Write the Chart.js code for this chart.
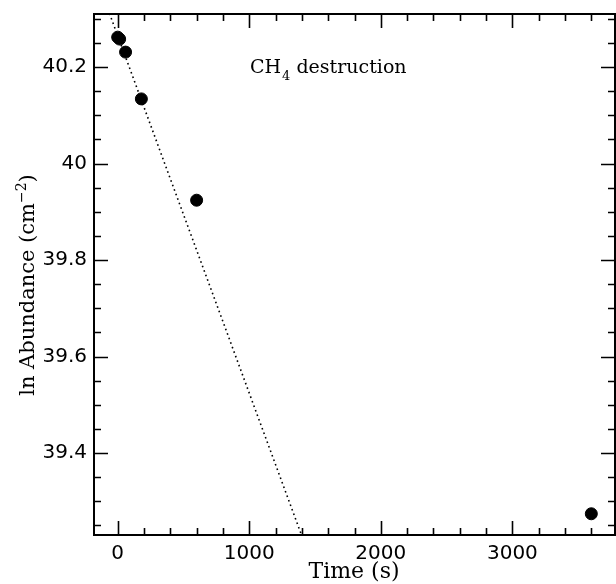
<!DOCTYPE html>
<html>
<head>
<meta charset="utf-8">
<script src="https://cdn.jsdelivr.net/npm/chart.js@4/dist/chart.umd.min.js"></script>
<style>
  html, body { margin: 0; padding: 0; background: #fff; }
  #wrap { width: 616px; height: 584px; }
</style>
</head>
<body>
<div id="wrap"><canvas id="c" width="616" height="584"></canvas></div>
<script>
// ---- data ----
const times = [0, 15, 60, 180, 600, 3600];
const lnAbundance = [40.262, 40.258, 40.231, 40.134, 39.924, 39.274];
const fitTimes = [-100, 1420];
const fitValues = [40.339, 39.213];
const xTickValues = [0, 1000, 2000, 3000];
const yTickValues = [39.4, 39.6, 39.8, 40, 40.2];
const xMinorStep = 200;
const yMinorStep = 0.05;
const xRange = [-180, 3780];
const yRange = [39.23, 40.31];
const xTitle = 'Time (s)';
const yTitleParts = ['ln Abundance (cm', '\u22122', ')'];
const annotationParts = ['CH', '4', ' destruction'];

const SERIF = '"DejaVu Serif", serif';

const framePlugin = {
  id: 'frame',
  afterDraw(chart) {
    const ctx = chart.ctx;
    const a = chart.chartArea;
    const xs = chart.scales.x, ys = chart.scales.y;
    ctx.save();
    ctx.strokeStyle = '#000';
    ctx.lineWidth = 2;
    ctx.strokeRect(a.left, a.top, a.right - a.left, a.bottom - a.top);
    ctx.lineWidth = 1.6;
    const major = 14, minor = 7;
    ctx.beginPath();
    const x0 = Math.ceil(xRange[0] / xMinorStep) * xMinorStep;
    for (let v = x0; v <= xRange[1] + 1e-9; v += xMinorStep) {
      const isMajor = Math.abs(v % 1000) < 1e-6;
      const len = isMajor ? major : minor;
      const px = Math.round(xs.getPixelForValue(v)) + 0.5;
      ctx.moveTo(px, a.bottom); ctx.lineTo(px, a.bottom - len);
      ctx.moveTo(px, a.top); ctx.lineTo(px, a.top + len);
    }
    const n0 = Math.ceil(yRange[0] / yMinorStep - 1e-9);
    const n1 = Math.floor(yRange[1] / yMinorStep + 1e-9);
    for (let n = n0; n <= n1; n++) {
      const v = n * yMinorStep;
      const isMajor = (n % 4) === 0;
      const len = isMajor ? major : minor;
      const py = Math.round(ys.getPixelForValue(v)) + 0.5;
      ctx.moveTo(a.left, py); ctx.lineTo(a.left + len, py);
      ctx.moveTo(a.right, py); ctx.lineTo(a.right - len, py);
    }
    ctx.stroke();

    ctx.fillStyle = '#000';
    ctx.font = '22px ' + SERIF;
    ctx.textAlign = 'center';
    ctx.textBaseline = 'alphabetic';
    ctx.fillText(xTitle, 354, 578);

    ctx.save();
    ctx.translate(34, 285);
    ctx.rotate(-Math.PI / 2);
    ctx.textAlign = 'left';
    const bigF = '21px ' + SERIF, smallF = '14px ' + SERIF;
    ctx.font = bigF; const w1 = ctx.measureText(yTitleParts[0]).width;
    ctx.font = smallF; const w2 = ctx.measureText(yTitleParts[1]).width;
    ctx.font = bigF; const w3 = ctx.measureText(yTitleParts[2]).width;
    let sx = -(w1 + w2 + w3) / 2;
    ctx.font = bigF; ctx.fillText(yTitleParts[0], sx, 0); sx += w1;
    ctx.font = smallF; ctx.fillText(yTitleParts[1], sx, -8); sx += w2;
    ctx.font = bigF; ctx.fillText(yTitleParts[2], sx, 0);
    ctx.restore();

    ctx.textAlign = 'left';
    let ax = 250;
    ctx.font = '19px ' + SERIF;
    ctx.fillText(annotationParts[0], ax, 73); ax += ctx.measureText(annotationParts[0]).width;
    ctx.font = '13px ' + SERIF;
    ctx.fillText(annotationParts[1], ax + 1, 80); ax += ctx.measureText(annotationParts[1]).width + 1;
    ctx.font = '19px ' + SERIF;
    ctx.fillText(annotationParts[2], ax, 73);
    ctx.restore();
  }
};

new Chart(document.getElementById('c'), {
  type: 'scatter',
  data: {
    datasets: [
      {
        label: 'fit',
        data: fitTimes.map((t, i) => ({ x: t, y: fitValues[i] })),
        showLine: true,
        borderColor: '#000',
        borderWidth: 1.6,
        borderDash: [1.6, 3.2],
        pointRadius: 0,
        fill: false,
        order: 2
      },
      {
        label: 'data',
        data: times.map((t, i) => ({ x: t, y: lnAbundance[i] })),
        backgroundColor: '#000',
        borderColor: '#000',
        pointRadius: 6,
        pointHoverRadius: 6,
        order: 1
      }
    ]
  },
  options: {
    responsive: false,
    animation: false,
    devicePixelRatio: 1,
    clip: 0,
    layout: { autoPadding: false, padding: { top: 14, right: 1, left: 0, bottom: 0 } },
    plugins: { legend: { display: false }, tooltip: { enabled: false } },
    scales: {
      x: {
        type: 'linear',
        min: xRange[0], max: xRange[1],
        grid: { display: false, drawTicks: false },
        border: { display: false },
        afterBuildTicks: s => { s.ticks = xTickValues.map(v => ({ value: v })); },
        afterFit: s => { s.height = 49; s.paddingLeft = 0; s.paddingRight = 0; },
        ticks: {
          font: { family: 'DejaVu Sans', size: 20 },
          color: '#000',
          padding: 7,
          maxRotation: 0,
          autoSkip: false,
          callback: v => String(v)
        }
      },
      y: {
        type: 'linear',
        min: yRange[0], max: yRange[1],
        grid: { display: false, drawTicks: false },
        border: { display: false },
        afterBuildTicks: s => { s.ticks = yTickValues.map(v => ({ value: v })); },
        afterFit: s => { s.width = 94; s.paddingTop = 0; s.paddingBottom = 0; },
        ticks: {
          font: { family: 'DejaVu Sans', size: 20 },
          color: '#000',
          padding: 7,
          autoSkip: false,
          callback: v => String(Math.round(v * 10) / 10)
        }
      }
    }
  },
  plugins: [framePlugin]
});
</script>
</body>
</html>
